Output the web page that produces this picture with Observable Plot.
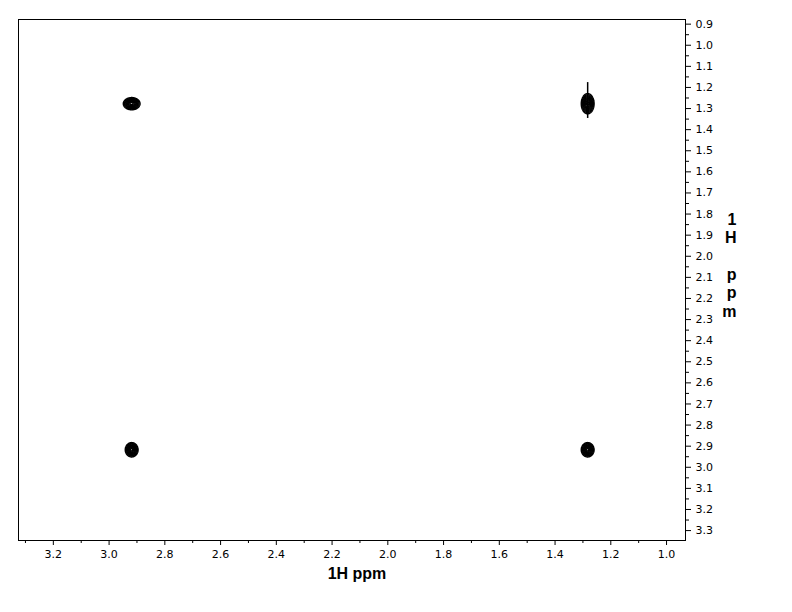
<!DOCTYPE html>
<html>
<head>
<meta charset="utf-8">
<script src="https://cdn.jsdelivr.net/npm/d3@7"></script>
<script src="https://cdn.jsdelivr.net/npm/@observablehq/plot@0.6"></script>
<style>
  html, body { margin: 0; padding: 0; background: #fff; }
  g[aria-label$="tick label"], g[aria-label$="tick label"] text {
    font-size: 11px !important;
    font-family: "DejaVu Sans", sans-serif !important;
  }
</style>
</head>
<body>
<div id="chart"></div>
<script>
// Peak data (ppm)
const peakX      = [2.919, 1.283, 2.919, 1.283];   // F2 (horizontal) shift
const peakY      = [1.277, 1.277, 2.917, 2.917];   // F1 (vertical) shift
const peakHalfWX = [0.030, 0.023, 0.023, 0.023];   // outer contour half-width, ppm
const peakHalfWY = [0.029, 0.048, 0.034, 0.034];   // outer contour half-height, ppm
const contourLevels = [0.04, 0.08, 0.14, 0.22, 0.32, 0.44, 0.58, 0.74, 0.9];

// t1-noise streak through the diagonal peak
const streakX  = [1.283];
const streakY1 = [1.177];
const streakY2 = [1.347];

// Axis ticks
const xMajor = [3.2, 3.0, 2.8, 2.6, 2.4, 2.2, 2.0, 1.8, 1.6, 1.4, 1.2, 1.0];
const xMinor = [3.3, 3.1, 2.9, 2.7, 2.5, 2.3, 2.1, 1.9, 1.7, 1.5, 1.3, 1.1];
const yMajor = [0.9,1.0,1.1,1.2,1.3,1.4,1.5,1.6,1.7,1.8,1.9,2.0,2.1,2.2,2.3,2.4,2.5,2.6,2.7,2.8,2.9,3.0,3.1,3.2,3.3];
const yMinor = [0.95,1.05,1.15,1.25,1.35,1.45,1.55,1.65,1.75,1.85,1.95,2.05,2.15,2.25,2.35,2.45,2.55,2.65,2.75,2.85,2.95,3.05,3.15,3.25];
const xDomain = [3.325, 0.932];
const yDomain = [0.878, 3.347];
const xTitle = "1H ppm";
const yTitle = "1\nH\n\np\np\nm";

const peaks = peakX.map((x, i) => ({x, y: peakY[i], sx: peakHalfWX[i] / 2.537, sy: peakHalfWY[i] / 2.537}));
const streaks = streakX.map((x, i) => ({x, y1: streakY1[i], y2: streakY2[i]}));

function intensity(x, y) {
  let v = 0;
  for (const p of peaks) {
    const dx = (x - p.x) / p.sx, dy = (y - p.y) / p.sy;
    const e = 0.5 * (dx * dx + dy * dy);
    if (e < 20) v += Math.exp(-e);
  }
  return v;
}

const fmt = d => d.toFixed(1);

const chart = Plot.plot({
  width: 792,
  height: 612,
  marginLeft: 18,
  marginRight: 107,
  marginTop: 19,
  marginBottom: 72,
  style: {fontFamily: "'Liberation Sans', Arial, sans-serif", fontSize: "11px", color: "#000", background: "#fff"},
  x: {domain: xDomain},
  y: {domain: yDomain, reverse: true},
  marks: [
    Plot.contour({
      value: intensity,
      x1: xDomain[0], x2: xDomain[1],
      y1: yDomain[0], y2: yDomain[1],
      thresholds: contourLevels,
      pixelSize: 0.5,
      stroke: "black",
      strokeWidth: 1.4,
      fill: "none"
    }),
    Plot.ruleX(streaks, {x: "x", y1: "y1", y2: "y2", stroke: "black", strokeWidth: 1.5}),
    Plot.frame({stroke: "black"}),
    Plot.axisX({ticks: xMajor, tickSize: 5, tickPadding: 5, tickFormat: fmt, label: null, strokeOpacity: 1}),
    Plot.axisX({ticks: xMinor, tickSize: 3, tickFormat: () => "", label: null, strokeOpacity: 1}),
    Plot.axisY({anchor: "right", ticks: yMajor, tickSize: 5, tickPadding: 5, tickFormat: fmt, label: null, strokeOpacity: 1}),
    Plot.axisY({anchor: "right", ticks: yMinor, tickSize: 3, tickFormat: () => "", label: null, strokeOpacity: 1}),
    Plot.text([xTitle], {frameAnchor: "bottom", dy: 38, dx: 5, text: d => d, fontSize: 16, fontWeight: "bold", fill: "black"}),
    Plot.text([yTitle], {frameAnchor: "right", dx: 51, dy: -15, text: d => d, fontSize: 16, fontWeight: "bold", lineHeight: 1.15, fill: "black"})
  ]
});
document.getElementById("chart").appendChild(chart);
</script>
</body>
</html>
